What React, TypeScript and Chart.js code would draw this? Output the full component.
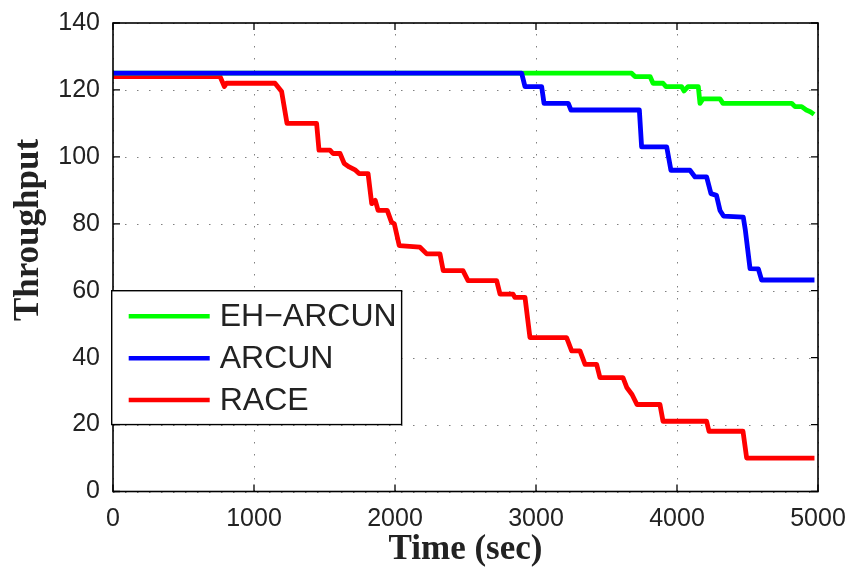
import React, { useEffect, useRef } from 'react';
import { Chart, registerables } from 'chart.js';

Chart.register(...registerables);

// ---- data ----
const seriesLabels = ['EH\u2212ARCUN', 'ARCUN', 'RACE'];
const seriesColors = ['#00ff00', '#0000ff', '#ff0000'];

const ehArcunTimes = [0, 3678, 3702, 3809, 3830, 3901, 3922, 4032, 4050, 4078, 4151, 4163, 4184, 4305, 4326, 4813, 4837, 4884, 4917, 4945, 4972];
const ehArcunValues = [125, 125, 124, 124, 122, 122, 121, 121, 119.7, 121, 121, 116, 117.3, 117.3, 116, 116, 115, 115, 114, 113.5, 112.7];

const arcunTimes = [0, 2898, 2922, 3040, 3057, 3229, 3248, 3733, 3749, 3927, 3957, 4092, 4128, 4210, 4241, 4280, 4305, 4330, 4470, 4485, 4518, 4577, 4600, 4975];
const arcunValues = [125, 125, 121, 121, 116, 116, 114, 114, 103, 103, 96, 96, 94, 94, 89, 88.5, 84, 82.3, 82, 78, 66.6, 66.5, 63.2, 63.2];

const raceTimes = [0, 759, 790, 805, 1149, 1196, 1234, 1444, 1461, 1539, 1560, 1610, 1640, 1675, 1720, 1745, 1809, 1835, 1860, 1880, 1945, 1975, 1995, 2030, 2177, 2225, 2319, 2342, 2482, 2518, 2721, 2745, 2837, 2850, 2922, 2957, 3217, 3253, 3312, 3348, 3430, 3454, 3617, 3645, 3681, 3716, 3879, 3901, 4210, 4227, 4468, 4494, 4975];
const raceValues = [124, 124, 121, 122, 122, 119.5, 110, 110, 102, 102, 101, 101, 98, 97, 96, 95, 95, 86, 87, 84, 84, 80.5, 80, 73.5, 73, 71, 71, 66, 66, 63, 63, 59, 59, 58, 58, 46, 46, 42, 42, 38, 38, 34, 34, 31, 29, 26, 26, 21, 21, 18, 18, 10, 10];

const xTicks = [0, 1000, 2000, 3000, 4000, 5000];
const yTicks = [0, 20, 40, 60, 80, 100, 120, 140];

const xTitle = 'Time (sec)';
const yTitle = 'Throughput';

function toPoints(times: number[], values: number[]) {
  return times.map((t, i) => ({ x: t, y: values[i] }));
}

const decorPlugin = {
  id: 'decor',
  beforeDatasetsDraw(chart: any) {
    const { ctx, chartArea: a, scales } = chart;
    const xs = scales.x;
    const ys = scales.y;
    ctx.save();
    ctx.strokeStyle = '#808080';
    ctx.lineWidth = 1;
    ctx.setLineDash([1.5, 10.5]);
    for (const v of xTicks) {
      const px = Math.round(xs.getPixelForValue(v)) + 0.5;
      ctx.beginPath();
      ctx.moveTo(px, a.bottom);
      ctx.lineTo(px, a.top);
      ctx.stroke();
    }
    for (const v of yTicks) {
      const py = Math.round(ys.getPixelForValue(v)) + 0.5;
      ctx.beginPath();
      ctx.moveTo(a.left, py);
      ctx.lineTo(a.right, py);
      ctx.stroke();
    }
    ctx.restore();
  },
  afterDatasetsDraw(chart: any) {
    const { ctx, chartArea: a, scales } = chart;
    const xs = scales.x;
    const ys = scales.y;
    ctx.save();
    // frame
    ctx.setLineDash([]);
    ctx.strokeStyle = '#000';
    ctx.lineWidth = 1.6;
    ctx.strokeRect(a.left, a.top, a.right - a.left, a.bottom - a.top);
    // inward ticks on all sides
    const tl = 7;
    ctx.lineWidth = 1.3;
    ctx.beginPath();
    for (const v of xTicks) {
      const px = xs.getPixelForValue(v);
      ctx.moveTo(px, a.bottom);
      ctx.lineTo(px, a.bottom - tl);
      ctx.moveTo(px, a.top);
      ctx.lineTo(px, a.top + tl);
    }
    for (const v of yTicks) {
      const py = ys.getPixelForValue(v);
      ctx.moveTo(a.left, py);
      ctx.lineTo(a.left + tl, py);
      ctx.moveTo(a.right, py);
      ctx.lineTo(a.right - tl, py);
    }
    ctx.stroke();

    // legend box (upper edge at y=60, lower edge at y=20)
    const bx0 = a.left - 1.3;
    const bx1 = xs.getPixelForValue(2047);
    const by0 = ys.getPixelForValue(60);
    const by1 = ys.getPixelForValue(20);
    ctx.fillStyle = '#fff';
    ctx.fillRect(bx0, by0, bx1 - bx0, by1 - by0);
    ctx.strokeStyle = '#000';
    ctx.lineWidth = 1.4;
    ctx.strokeRect(bx0, by0, bx1 - bx0, by1 - by0);
    const rowH = (by1 - by0) / 3.2;
    const ds = chart.data.datasets;
    ctx.font = '32px "Liberation Sans", Arial, sans-serif';
    ctx.textBaseline = 'middle';
    ctx.textAlign = 'left';
    for (let i = 0; i < seriesLabels.length; i++) {
      const ry = by0 + rowH * (0.6 + i) + 0.5;
      ctx.strokeStyle = ds[i].borderColor;
      ctx.lineWidth = 4.5;
      ctx.beginPath();
      ctx.moveTo(bx0 + 17, ry);
      ctx.lineTo(bx0 + 98, ry);
      ctx.stroke();
      ctx.fillStyle = '#222';
      ctx.fillText(seriesLabels[i], bx0 + 108, ry + 1);
    }

    // y title
    ctx.translate(29, 230);
    ctx.rotate(-Math.PI / 2);
    ctx.font = 'bold 35px "Liberation Serif", "Times New Roman", serif';
    ctx.fillStyle = '#222';
    ctx.textAlign = 'center';
    ctx.textBaseline = 'middle';
    ctx.fillText(yTitle, 0, 0);
    ctx.restore();
  },
};

export default function App() {
  const ref = useRef<HTMLCanvasElement | null>(null);
  useEffect(() => {
    document.body.style.margin = '0';
    const canvas = ref.current;
    if (!canvas) return;
    const tickFont = { family: '"Liberation Sans", Arial, sans-serif', size: 25 };
    const chart = new Chart(canvas, {
      type: 'line',
      data: {
        datasets: [
          { label: seriesLabels[0], data: toPoints(ehArcunTimes, ehArcunValues), borderColor: seriesColors[0], order: 1 },
          { label: seriesLabels[1], data: toPoints(arcunTimes, arcunValues), borderColor: seriesColors[1], order: 0 },
          { label: seriesLabels[2], data: toPoints(raceTimes, raceValues), borderColor: seriesColors[2], order: 2 },
        ] as any,
      },
      options: {
        responsive: false,
        animation: false,
        devicePixelRatio: 1,
        layout: { padding: { top: 23, right: 35, left: 0, bottom: 0 } },
        elements: {
          line: { borderWidth: 4.8, tension: 0, borderJoinStyle: 'round', borderCapStyle: 'butt' },
          point: { radius: 0, hoverRadius: 0 },
        },
        plugins: {
          legend: { display: false },
          tooltip: { enabled: false },
        },
        scales: {
          x: {
            type: 'linear',
            min: 0,
            max: 5000,
            afterBuildTicks: (s: any) => { s.ticks = xTicks.map((v) => ({ value: v })); },
            afterFit: (s: any) => { s.height = 75.5; },
            grid: { display: false },
            border: { display: false },
            ticks: { font: tickFont, color: '#222', padding: 5, callback: (v: any) => String(v) },
            title: {
              display: true,
              text: xTitle,
              color: '#222',
              font: { family: '"Liberation Serif", "Times New Roman", serif', size: 35, weight: 'bold', lineHeight: 1 },
              padding: { top: 0, bottom: 0 },
            },
          },
          y: {
            type: 'linear',
            min: 0,
            max: 140,
            afterBuildTicks: (s: any) => { s.ticks = yTicks.map((v) => ({ value: v })); },
            afterFit: (s: any) => { s.width = 113; },
            grid: { display: false },
            border: { display: false },
            ticks: { font: tickFont, color: '#222', padding: 5, callback: (v: any) => String(v) },
          },
        },
      } as any,
      plugins: [decorPlugin],
    });
    return () => chart.destroy();
  }, []);
  return (
    <div style={{ position: 'absolute', left: 0, top: 0, width: 853, height: 567, background: '#fff' }}>
      <canvas ref={ref} width={853} height={567} style={{ display: 'block' }} />
    </div>
  );
}
